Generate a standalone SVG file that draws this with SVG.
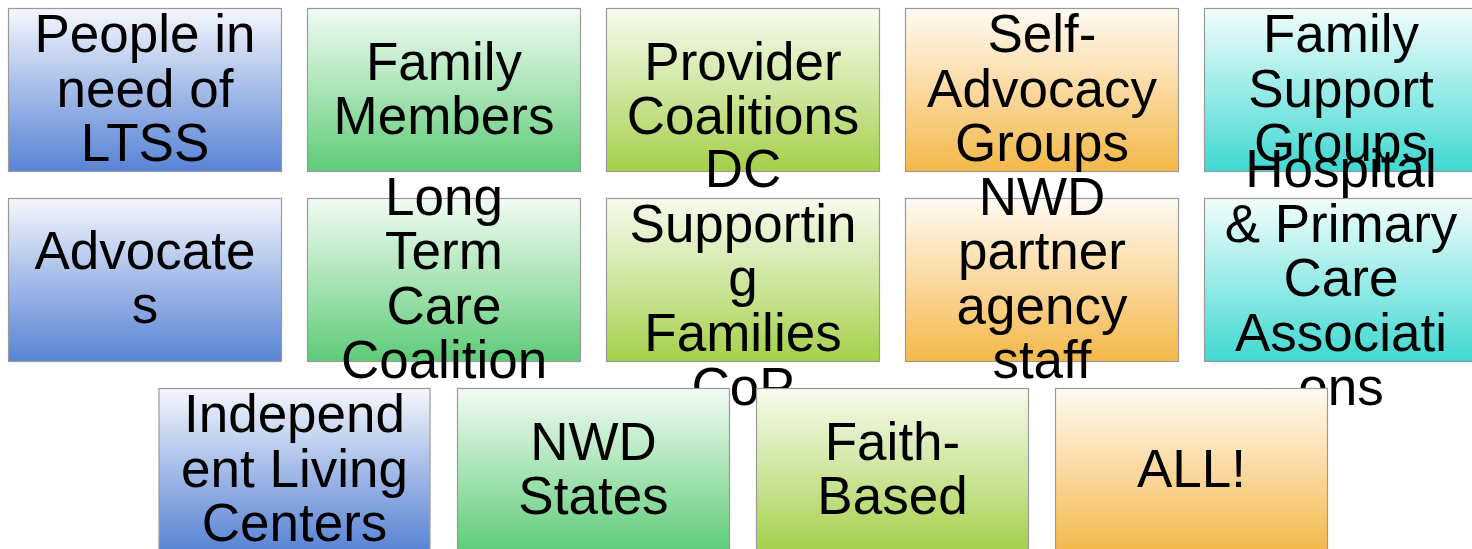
<svg xmlns="http://www.w3.org/2000/svg" width="1472" height="549" viewBox="0 0 1472 549">
<defs>
<linearGradient id="gBlue" x1="0" y1="0" x2="0" y2="1"><stop offset="0" stop-color="#f5f7fd"/><stop offset="0.5" stop-color="#a4bbe8"/><stop offset="1" stop-color="#5883d4"/></linearGradient>
<linearGradient id="gGreen" x1="0" y1="0" x2="0" y2="1"><stop offset="0" stop-color="#f2fbf3"/><stop offset="0.5" stop-color="#a9e4b6"/><stop offset="1" stop-color="#5dcb78"/></linearGradient>
<linearGradient id="gLime" x1="0" y1="0" x2="0" y2="1"><stop offset="0" stop-color="#f7fbee"/><stop offset="0.5" stop-color="#cfe6a0"/><stop offset="1" stop-color="#a5d04a"/></linearGradient>
<linearGradient id="gOrange" x1="0" y1="0" x2="0" y2="1"><stop offset="0" stop-color="#fffaf2"/><stop offset="0.5" stop-color="#fbd9a0"/><stop offset="1" stop-color="#f3b849"/></linearGradient>
<linearGradient id="gCyan" x1="0" y1="0" x2="0" y2="1"><stop offset="0" stop-color="#f2fdfd"/><stop offset="0.5" stop-color="#9aebe7"/><stop offset="1" stop-color="#3fd8d1"/></linearGradient>
</defs>
<style>
rect.box{stroke:#9a9a9a;stroke-width:1.2}
text{font-family:"Liberation Sans",Arial,sans-serif;font-size:53px;fill:#000;text-anchor:middle}
</style>
<g id="connectors"/>
<g id="n1"><rect class="box" x="8.5" y="8.5" width="273" height="163" fill="url(#gBlue)"/><text x="145" y="52">People in</text><text x="145" y="106.5">need of</text><text x="145" y="161">LTSS</text></g>
<g id="n2"><rect class="box" x="307.5" y="8.5" width="273" height="163" fill="url(#gGreen)"/><text x="444" y="79.5">Family</text><text x="444" y="134">Members</text></g>
<g id="n3"><rect class="box" x="606.5" y="8.5" width="273" height="163" fill="url(#gLime)"/><text x="743" y="79.5">Provider</text><text x="743" y="134">Coalitions</text></g>
<g id="n4"><rect class="box" x="905.5" y="8.5" width="273" height="163" fill="url(#gOrange)"/><text x="1042" y="52">Self-</text><text x="1042" y="106.5">Advocacy</text><text x="1042" y="161">Groups</text></g>
<g id="n5"><rect class="box" x="1204.5" y="8.5" width="273" height="163" fill="url(#gCyan)"/><text x="1341" y="52">Family</text><text x="1341" y="106.5">Support</text><text x="1341" y="161">Groups</text></g>
<g id="n6"><rect class="box" x="8.5" y="198.5" width="273" height="163" fill="url(#gBlue)"/><text x="145" y="268.5">Advocate</text><text x="145" y="323">s</text></g>
<g id="n7"><rect class="box" x="307.5" y="198.5" width="273" height="163" fill="url(#gGreen)"/><text x="444" y="214.5">Long</text><text x="444" y="269">Term</text><text x="444" y="323.5">Care</text><text x="444" y="378">Coalition</text></g>
<g id="n8"><rect class="box" x="606.5" y="198.5" width="273" height="163" fill="url(#gLime)"/><text x="743" y="187">DC</text><text x="743" y="241.5">Supportin</text><text x="743" y="296">g</text><text x="743" y="350.5">Families</text><text x="743" y="405">CoP</text></g>
<g id="n9"><rect class="box" x="905.5" y="198.5" width="273" height="163" fill="url(#gOrange)"/><text x="1042" y="214.5">NWD</text><text x="1042" y="269">partner</text><text x="1042" y="323.5">agency</text><text x="1042" y="378">staff</text></g>
<g id="n10"><rect class="box" x="1204.5" y="198.5" width="273" height="163" fill="url(#gCyan)"/><text x="1341" y="187">Hospital</text><text x="1341" y="241.5">&amp; Primary</text><text x="1341" y="296">Care</text><text x="1341" y="350.5">Associati</text><text x="1341" y="405">ons</text></g>
<g id="n11"><rect class="box" x="159" y="388.5" width="271" height="163" fill="url(#gBlue)"/><text x="294.5" y="432">Independ</text><text x="294.5" y="486.5">ent Living</text><text x="294.5" y="541">Centers</text></g>
<g id="n12"><rect class="box" x="457.5" y="388.5" width="272" height="163" fill="url(#gGreen)"/><text x="593.5" y="459.5">NWD</text><text x="593.5" y="514">States</text></g>
<g id="n13"><rect class="box" x="756.5" y="388.5" width="272" height="163" fill="url(#gLime)"/><text x="892.5" y="459.5">Faith-</text><text x="892.5" y="514">Based</text></g>
<g id="n14"><rect class="box" x="1055.5" y="388.5" width="272" height="163" fill="url(#gOrange)"/><text x="1191.5" y="487">ALL!</text></g>
</svg>
